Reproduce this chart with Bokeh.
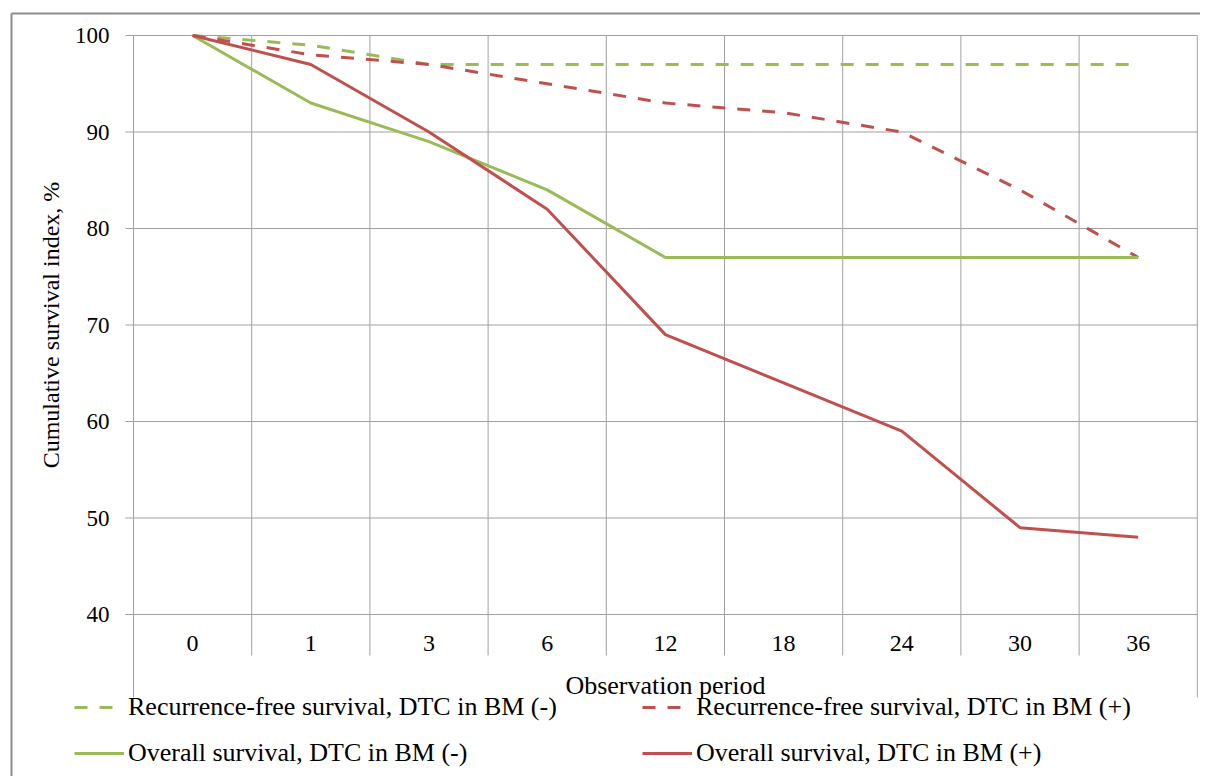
import math
from bokeh.plotting import figure
from bokeh.models import Range1d, Legend, LegendItem, ColumnDataSource
from bokeh.core.properties import value
from bokeh.embed import file_html
from bokeh.resources import INLINE

# ---- data ----
periods = ["0", "1", "3", "6", "12", "18", "24", "30", "36"]
rfs_neg = [100, 99, 97, 97, 97, 97, 97, 97, 97]
rfs_pos = [100, 98, 97, 95, 93, 92, 90, 84, 77]
os_neg = [100, 93, 89, 84, 77, 77, 77, 77, 77]
os_pos = [100, 97, 90, 82, 69, 64, 59, 49, 48]
y_ticks = [40, 50, 60, 70, 80, 90, 100]

series_names = [
    "Recurrence-free survival, DTC in BM (-)",
    "Recurrence-free survival, DTC in BM (+)",
    "Overall survival, DTC in BM (-)",
    "Overall survival, DTC in BM (+)",
]
x_title = "Observation period"
y_title = "Cumulative survival index, %"

# ---- style ----
FONT = "Liberation Serif"
GREEN = "#9BBB59"
RED = "#C0504D"
GRID = "#a0a0a0"
BORDER = "#8c8c8c"
DASH = "13 12"

W, H = 1200, 776
n = len(periods)
x_pos = [i + 0.5 for i in range(n)]          # category centres on a band scale
y_lo, y_hi = y_ticks[0], y_ticks[-1]
px_per_x = 118.2                              # band width in pixels
px_per_y = 9.65                               # pixels per percent
box_left_px, box_top_px, y_lo_px = 133, 35, 614

x_start = -box_left_px / px_per_x
x_end = (W - box_left_px) / px_per_x
y_end = y_hi + box_top_px / px_per_y
y_start = y_lo - (H - y_lo_px) / px_per_y

# the frame covers the whole canvas; the chart box sits inside it
p = figure(width=W, height=H,
           x_range=Range1d(x_start, x_end), y_range=Range1d(y_start, y_end),
           x_axis_location=None, y_axis_location=None,
           output_backend="svg", toolbar_location=None,
           min_border=0, min_border_left=0, min_border_right=0,
           min_border_top=0, min_border_bottom=0)
p.outline_line_color = None
p.background_fill_color = "white"
p.border_fill_color = "white"
p.grid.visible = False

tick_out = 8 / px_per_x
box_bottom = y_lo - 83 / px_per_y
sep_bottom = y_lo - 41 / px_per_y
outer_left = x_start + 11 / px_per_x
outer_top = y_end - 13 / px_per_y

# outer chart-area border (left and top edges visible)
p.segment(x0=[outer_left, outer_left], x1=[outer_left, x_end],
          y0=[outer_top, outer_top], y1=[y_start, outer_top],
          line_color=BORDER, line_width=2)

# horizontal gridlines with their outward ticks
p.segment(x0=[-tick_out] * len(y_ticks), x1=[n] * len(y_ticks),
          y0=y_ticks, y1=y_ticks, line_color=GRID, line_width=1)
# box sides
p.segment(x0=[0, n], x1=[0, n], y0=[y_hi, y_hi], y1=[box_bottom, box_bottom],
          line_color=GRID, line_width=1)
# category separators
seps = list(range(1, n))
p.segment(x0=seps, x1=seps, y0=[y_hi] * len(seps), y1=[sep_bottom] * len(seps),
          line_color=GRID, line_width=1)

# y tick labels
p.text(x=[0] * len(y_ticks), y=y_ticks, text=[str(t) for t in y_ticks],
       x_offset=-24, text_align="right", text_baseline="middle",
       text_font=value(FONT), text_font_size="23px", text_color="black")
# category labels
p.text(x=x_pos, y=[y_lo] * n, text=periods, y_offset=29,
       text_align="center", text_baseline="middle",
       text_font=value(FONT), text_font_size="24px", text_color="black")
# axis titles
p.text(x=[n / 2], y=[y_lo], text=[x_title], y_offset=71,
       text_align="center", text_baseline="middle",
       text_font=value(FONT), text_font_size="26px", text_color="black")
p.text(x=[0], y=[(y_lo + y_hi) / 2], text=[y_title], x_offset=-83,
       angle=math.pi / 2, text_align="center", text_baseline="middle",
       text_font=value(FONT), text_font_size="24px", text_color="black")

# series
src = ColumnDataSource(dict(x=x_pos, rfs_neg=rfs_neg, rfs_pos=rfs_pos,
                            os_neg=os_neg, os_pos=os_pos))
r1 = p.line("x", "rfs_neg", source=src, line_color=GREEN, line_width=3, line_dash=DASH)
r2 = p.line("x", "rfs_pos", source=src, line_color=RED, line_width=3, line_dash=DASH)
r3 = p.line("x", "os_neg", source=src, line_color=GREEN, line_width=3)
r4 = p.line("x", "os_pos", source=src, line_color=RED, line_width=3)

# legend
legend = Legend(items=[LegendItem(label=series_names[0], renderers=[r1]),
                       LegendItem(label=series_names[1], renderers=[r2]),
                       LegendItem(label=series_names[2], renderers=[r3]),
                       LegendItem(label=series_names[3], renderers=[r4])],
                orientation="horizontal", ncols=2,
                location=(74, 8),
                glyph_width=50, glyph_height=24, label_height=24,
                label_width=498, label_standoff=4, spacing=16,
                padding=0, margin=0,
                border_line_color=None, background_fill_alpha=0,
                label_text_font=FONT, label_text_font_size="26px",
                label_text_color="black", label_text_baseline="middle")
p.add_layout(legend, "center")

open("out.html", "w").write(file_html(p, INLINE))
